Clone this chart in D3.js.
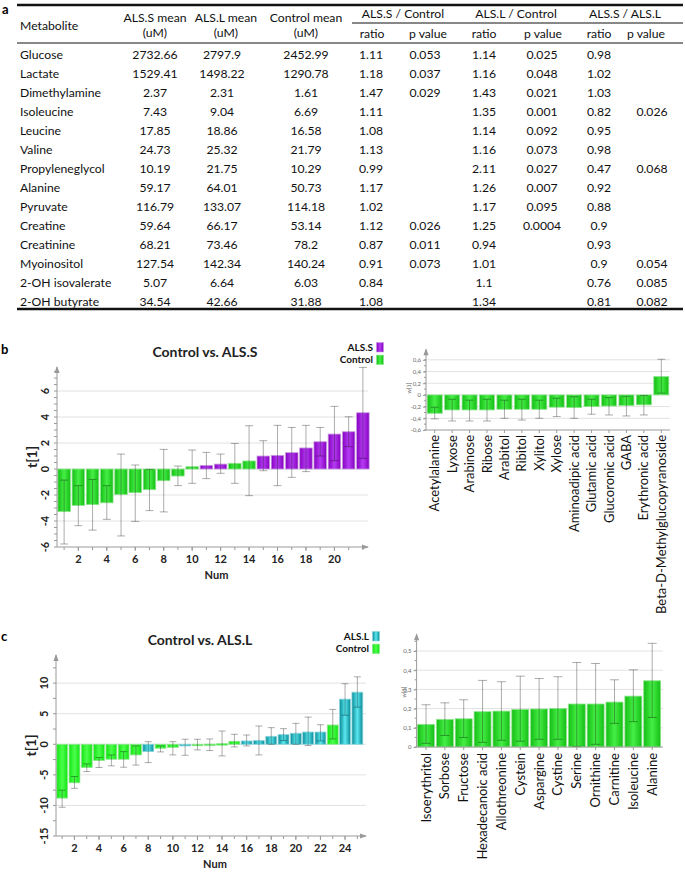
<!DOCTYPE html>
<html><head><meta charset="utf-8">
<script src="https://cdn.jsdelivr.net/npm/d3@7"></script>
<style>
body{margin:0;background:#fff}
svg{display:block}
text{font-family:Lato,"Open Sans","Noto Sans",sans-serif}
</style>
</head><body>
<svg id="fig" width="685" height="875"></svg>
<script>
// ---------- TABLE DATA (panel a) ----------
const metabolites = ["Glucose","Lactate","Dimethylamine","Isoleucine","Leucine","Valine","Propyleneglycol","Alanine","Pyruvate","Creatine","Creatinine","Myoinositol","2-OH isovalerate","2-OH butyrate"];
const alsSMean   = [2732.66,1529.41,2.37,7.43,17.85,24.73,10.19,59.17,116.79,59.64,68.21,127.54,5.07,34.54];
const alsLMean   = [2797.9,1498.22,2.31,9.04,18.86,25.32,21.75,64.01,133.07,66.17,73.46,142.34,6.64,42.66];
const controlMean= [2452.99,1290.78,1.61,6.69,16.58,21.79,10.29,50.73,114.18,53.14,78.2,140.24,6.03,31.88];
const ratioSC = [1.11,1.18,1.47,1.11,1.08,1.13,0.99,1.17,1.02,1.12,0.87,0.91,0.84,1.08];
const pSC     = [0.053,0.037,0.029,null,null,null,null,null,null,0.026,0.011,0.073,null,null];
const ratioLC = [1.14,1.16,1.43,1.35,1.14,1.16,2.11,1.26,1.17,1.25,0.94,1.01,1.1,1.34];
const pLC     = [0.025,0.048,0.021,0.001,0.092,0.073,0.027,0.007,0.095,0.0004,null,null,null,null];
const ratioSL = [0.98,1.02,1.03,0.82,0.95,0.98,0.47,0.92,0.88,0.9,0.93,0.9,0.76,0.81];
const pSL     = [null,null,null,0.026,null,null,0.068,null,null,null,null,0.054,0.085,0.082];

// ---------- PANEL b : Control vs. ALS.S ----------
const tS     = [-3.28,-2.8,-2.74,-2.6,-1.97,-1.82,-1.59,-0.9,-0.54,0.18,0.28,0.38,0.44,0.62,1.0,1.05,1.26,1.62,2.1,2.69,2.87,4.33];
const tSLo   = [-5.77,-4.36,-4.7,-3.87,-5.15,-4.03,-3.2,-3.3,-1.28,-1.1,-0.74,-0.33,-1.1,-2.05,-0.13,-1.28,-0.64,-0.2,1.0,0.64,1.72,0.82];
const tSHi   = [-0.85,-1.28,-0.8,-1.28,1.15,0.31,-0.03,1.51,0.23,1.46,1.28,1.15,1.97,3.33,2.18,3.36,3.2,3.36,3.2,4.82,4.02,7.82];
const tSGroup= ["Control","Control","Control","Control","Control","Control","Control","Control","Control","Control","ALS.S","ALS.S","Control","Control","ALS.S","ALS.S","ALS.S","ALS.S","ALS.S","ALS.S","ALS.S","ALS.S"];
const tSYTicks = [-6,-4,-2,0,2,4,6];
const tSXTicks = [2,4,6,8,10,12,14,16,18,20];

const wSNames = ["Acetylalanine","Lyxose","Arabinose","Ribose","Arabitol","Ribitol","Xylitol","Xylose","Aminoadipic acid","Glutamic acid","Glucoronic acid","GABA","Erythronic acid","Beta-D-Methylglucopyranoside"];
const wS   = [-0.314,-0.257,-0.257,-0.257,-0.246,-0.246,-0.246,-0.21,-0.217,-0.2,-0.19,-0.183,-0.17,0.314];
const wSLo = [-0.41,-0.446,-0.446,-0.446,-0.4,-0.43,-0.4,-0.37,-0.4,-0.33,-0.343,-0.36,-0.343,0.03];
const wSHi = [-0.21,-0.074,-0.09,-0.074,-0.09,-0.074,-0.09,-0.057,-0.03,-0.074,-0.046,-0.023,-0.01,0.61];
const wSYTicks = [-0.6,-0.4,-0.2,0,0.2,0.4,0.6];

// ---------- PANEL c : Control vs. ALS.L ----------
const tL     = [-8.8,-6.3,-3.8,-2.66,-2.45,-2.45,-1.74,-1.2,-0.65,-0.5,-0.27,-0.05,0.03,0.1,0.49,0.54,0.6,1.3,1.58,1.8,2.0,2.0,3.15,7.38,8.52];
const tLLo   = [-10.3,-7.2,-4.46,-3.8,-3.53,-3.75,-3.4,-3.0,-1.25,-1.74,-1.8,-0.92,-1.03,-1.9,-0.43,-0.27,-1.74,0.0,0.6,0.0,-0.2,0.54,0.87,4.75,6.07];
const tLHi   = [-7.5,-5.27,-3.2,-2.17,-1.74,-1.2,-0.27,0.43,-0.27,0.43,0.82,0.82,0.87,2.17,1.63,1.52,2.99,2.72,2.55,3.42,4.45,3.2,5.7,9.9,11.03];
const tLGroup= ["Control","Control","Control","Control","Control","Control","Control","ALS.L","Control","Control","ALS.L","Control","Control","Control","Control","ALS.L","ALS.L","ALS.L","ALS.L","ALS.L","ALS.L","ALS.L","Control","ALS.L","ALS.L"];
const tLYTicks = [-15,-10,-5,0,5,10];
const tLXTicks = [2,4,6,8,10,12,14,16,18,20,22,24];

const wLNames = ["Isoerythritol","Sorbose","Fructose","Hexadecanoic acid","Allothreonine","Cystein","Aspargine","Cystine","Serine","Ornithine","Carnitine","Isoleucine","Alanine"];
const wL   = [0.118,0.144,0.147,0.184,0.187,0.196,0.198,0.201,0.224,0.224,0.234,0.265,0.345];
const wLLo = [0.019,0.06,0.049,0.024,0.035,0.03,0.04,0.04,0.003,0.014,0.123,0.132,0.154];
const wLHi = [0.22,0.23,0.246,0.347,0.34,0.369,0.357,0.366,0.44,0.435,0.35,0.402,0.54];
const wLYTicks = [0,0.1,0.2,0.3,0.4,0.5];

// ---------- DRAW ----------
const svg = d3.select("#fig");
svg.append("rect").attr("width",685).attr("height",875).attr("fill","#fff");
const defs = svg.append("defs");
function grad(id, edge, mid){
  const g = defs.append("linearGradient").attr("id",id).attr("x1",0).attr("x2",1).attr("y1",0).attr("y2",0);
  g.append("stop").attr("offset","0%").attr("stop-color",edge);
  g.append("stop").attr("offset","50%").attr("stop-color",mid);
  g.append("stop").attr("offset","100%").attr("stop-color",edge);
}
grad("gGreen","#14be14","#46ee46");
grad("gGreenB","#12e412","#4cff4c");
grad("gPurple","#8600c0","#b43cf2");
grad("gTeal","#0a8a96","#5ae8f0");
const fills = {Control:"url(#gGreen)","ALS.S":"url(#gPurple)","ALS.L":"url(#gTeal)"};
const strokes = {Control:"#8fe68f","ALS.S":"#c89ae0","ALS.L":"#8ad4dc"};

// ----- table -----
const T = svg.append("g").attr("font-size",12.2).attr("fill","#111");
const tl = (x1,x2,y,w)=>T.append("line").attr("x1",x1).attr("x2",x2).attr("y1",y).attr("y2",y).attr("stroke","#111").attr("stroke-width",w);
tl(17,683,5,2.5); tl(352,683,23,1); tl(17,683,43,1); tl(17,683,309,2.5);
const tt = (x,y,s,anchor)=>T.append("text").attr("x",x).attr("y",y).attr("dy","0.35em").attr("text-anchor",anchor||"middle").text(s);
tt(20,26,"Metabolite","start");
tt(155,18,"ALS.S mean"); tt(155,33,"(uM)");
tt(226,18,"ALS.L mean"); tt(226,33,"(uM)");
tt(306,18,"Control mean"); tt(306,33,"(uM)");
tt(403,14,"ALS.S / Control"); tt(516,14,"ALS.L / Control"); tt(625,14,"ALS.S / ALS.L");
[[372,"ratio"],[428,"p value"],[484,"ratio"],[543,"p value"],[599,"ratio"],[646,"p value"]].forEach(d=>tt(d[0],34,d[1]));
const rowY = d3.scaleLinear().domain([0,13]).range([55,301.7]);
const colX = [155,222,306,371,425,484,542,599,652];
const cols = [alsSMean,alsLMean,controlMean,ratioSC,pSC,ratioLC,pLC,ratioSL,pSL];
metabolites.forEach((m,i)=>{
  tt(20,rowY(i),m,"start");
  cols.forEach((c,j)=>{ if(c[i]!==null) tt(colX[j],rowY(i),String(c[i])); });
});

// panel letters
const letter=(x,y,s)=>svg.append("text").attr("x",x).attr("y",y).attr("font-family","Liberation Sans, Arial, sans-serif").attr("font-weight","bold").attr("font-size",13).text(s);
letter(2,14,"a"); letter(1,354,"b"); letter(1,641,"c");

const AX = "#9a9a9a", GRID = "#e2e2e2";

function arrowUp(g,x,y){ g.append("path").attr("d",`M${x},${y-1} L${x-2.6},${y+6} L${x+2.6},${y+6} Z`).attr("fill",AX); }
function arrowRight(g,x,y){ g.append("path").attr("d",`M${x+1},${y} L${x-6},${y-2.6} L${x-6},${y+2.6} Z`).attr("fill",AX); }

function errorBars(g,x,y,lo,hi,cap){
  const eb = g.append("g").attr("stroke","#000").attr("stroke-opacity",0.33).attr("stroke-width",1);
  lo.forEach((l,i)=>{
    const cx = x(i)+0.5;
    eb.append("line").attr("x1",cx).attr("x2",cx).attr("y1",y(l)).attr("y2",y(hi[i]));
    eb.append("line").attr("x1",cx-cap).attr("x2",cx+cap).attr("y1",y(l)).attr("y2",y(l));
    eb.append("line").attr("x1",cx-cap).attr("x2",cx+cap).attr("y1",y(hi[i])).attr("y2",y(hi[i]));
  });
}

function leftChart(o){
  const g = svg.append("g");
  const x = d3.scaleBand().domain(d3.range(1,o.vals.length+1)).range(o.xr).paddingInner(0.12).paddingOuter(0.06);
  const y = d3.scaleLinear().domain(o.yd).range(o.yr);
  const x0 = o.xr[0], yBase = o.yr[0], yTop = o.yr[1];
  o.yTicks.filter(v=>v>o.yd[0]).forEach(v=>g.append("line").attr("x1",x0).attr("x2",o.xEnd).attr("y1",y(v)).attr("y2",y(v)).attr("stroke",GRID));
  const bw = x.bandwidth();
  o.vals.forEach((v,i)=>{
    const grp = o.groups[i];
    g.append("rect").attr("x",x(i+1)).attr("width",bw)
      .attr("y",y(Math.max(0,v))).attr("height",Math.max(1.5,Math.abs(y(v)-y(0))))
      .attr("fill",grp==="Control"? o.greenFill : fills[grp]).attr("stroke",strokes[grp]).attr("stroke-width",0.8);
  });
  errorBars(g,i=>x(i+1)+bw/2-0.5,y,o.lo,o.hi,o.cap);
  g.append("line").attr("x1",x0).attr("x2",x0).attr("y1",yBase).attr("y2",yTop).attr("stroke",AX);
  arrowUp(g,x0,yTop);
  g.append("line").attr("x1",x0).attr("x2",o.xEnd).attr("y1",yBase).attr("y2",yBase).attr("stroke",AX);
  arrowRight(g,o.xEnd,yBase);
  d3.range(o.yd[0],o.yd[1],o.minor).forEach(v=>g.append("line").attr("x1",x0-3).attr("x2",x0).attr("y1",y(v)).attr("y2",y(v)).attr("stroke",AX));
  o.yTicks.forEach(v=>g.append("text").attr("transform",`translate(${x0-8},${y(v)}) rotate(-90)`).attr("text-anchor","middle")
    .attr("font-weight","bold").attr("font-size",11).attr("fill","#222").text(String(v)));
  g.append("text").attr("transform",`translate(${x0-20},${(yBase+yTop)/2}) rotate(-90)`).attr("text-anchor","middle")
    .attr("font-weight","bold").attr("font-size",14).attr("fill","#222").text("t[1]");
  const xa = g.append("g").attr("transform",`translate(0,${yBase})`)
    .call(d3.axisBottom(x).tickValues(o.xTicks).tickSize(4).tickPadding(4));
  xa.select(".domain").remove();
  xa.selectAll("line").attr("stroke",AX);
  xa.selectAll("text").attr("font-family","Lato, sans-serif").attr("font-weight","bold").attr("font-size",11).attr("fill","#222");
  d3.range(1,o.vals.length+1).forEach(k=>g.append("line").attr("x1",x(k)+bw/2).attr("x2",x(k)+bw/2).attr("y1",yBase).attr("y2",yBase+3).attr("stroke",AX));
  g.append("text").attr("x",(x0+o.xEnd)/2+4).attr("y",yBase+32).attr("text-anchor","middle").attr("font-weight","bold").attr("font-size",11).attr("fill","#222").text("Num");
  g.append("text").attr("x",o.titleX).attr("y",o.titleY).attr("text-anchor","middle").attr("font-weight","bold").attr("font-size",14).attr("fill","#222").text(o.title);
  o.legend.forEach((d,k)=>{
    const ly = o.legY + k*12.6;
    g.append("text").attr("x",o.legX).attr("y",ly).attr("dy","0.35em").attr("text-anchor","end").attr("font-weight","bold").attr("font-size",10).attr("fill","#111").text(d);
    g.append("rect").attr("x",o.legX+3.5).attr("y",ly-4.5).attr("width",7).attr("height",9.5)
      .attr("fill",d==="Control"? o.greenFill : fills[d]).attr("stroke",strokes[d]).attr("stroke-width",0.6);
  });
}

function rightChart(o){
  const g = svg.append("g");
  const x = d3.scaleBand().domain(o.names).range(o.xr).paddingInner(o.pad).paddingOuter(o.pad/2);
  const y = d3.scaleLinear().domain(o.yd).range(o.yr);
  const x0 = o.xr[0], yBase = o.yr[0], yTop = o.yr[1];
  o.yTicks.filter(v=>v>o.yd[0]+1e-9).forEach(v=>g.append("line").attr("x1",x0).attr("x2",o.xEnd).attr("y1",y(v)).attr("y2",y(v)).attr("stroke",GRID));
  const bw = x.bandwidth();
  o.vals.forEach((v,i)=>{
    g.append("rect").attr("x",x(o.names[i])).attr("width",bw)
      .attr("y",y(Math.max(0,v))).attr("height",Math.abs(y(v)-y(0)))
      .attr("fill","url(#gGreen)").attr("stroke","#8fe68f").attr("stroke-width",0.8);
  });
  errorBars(g,i=>x(o.names[i])+bw/2-0.5,y,o.lo,o.hi,o.cap);
  g.append("line").attr("x1",x0).attr("x2",x0).attr("y1",yBase).attr("y2",yTop).attr("stroke",AX);
  arrowUp(g,x0,yTop);
  g.append("line").attr("x1",x0).attr("x2",o.xEnd).attr("y1",yBase).attr("y2",yBase).attr("stroke",AX);
  d3.range(o.yd[0],o.yd[1],o.minor).forEach(v=>g.append("line").attr("x1",x0-2).attr("x2",x0).attr("y1",y(v)).attr("y2",y(v)).attr("stroke",AX));
  const ya = g.append("g").attr("transform",`translate(${x0},0)`)
    .call(d3.axisLeft(y).tickValues(o.yTicks).tickSize(3).tickPadding(2).tickFormat(v=>String(+v.toFixed(2)).replace(".",",")));
  ya.select(".domain").remove();
  ya.selectAll("line").attr("stroke",AX);
  ya.selectAll("text").attr("font-family","Lato, sans-serif").attr("font-size",6).attr("fill","#666");
  g.append("text").attr("transform",`translate(${o.wX},${o.wY}) rotate(-90)`).attr("text-anchor","middle").attr("font-size",5.5).attr("fill","#666").text("w[1]");
  const xa = g.append("g").attr("transform",`translate(0,${yBase})`).call(d3.axisBottom(x).tickSize(3).tickFormat(""));
  xa.select(".domain").remove();
  xa.selectAll("line").attr("stroke",AX);
  o.names.forEach(n=>g.append("text").attr("transform",`translate(${x(n)+bw/2+4.5},${o.labY}) rotate(-90)`)
    .attr("text-anchor","end").attr("font-size",13).attr("fill","#111").text(n));
}

leftChart({vals:tS,lo:tSLo,hi:tSHi,groups:tSGroup,xr:[57,370],xEnd:368,yd:[-6,7.85],yr:[547,367],yTicks:tSYTicks,minor:0.5,
  xTicks:tSXTicks,cap:4,title:"Control vs. ALS.S",titleX:205,titleY:357,legend:["ALS.S","Control"],legX:373,legY:347,greenFill:"url(#gGreen)"});
rightChart({names:wSNames,vals:wS,lo:wSLo,hi:wSHi,xr:[426,670],xEnd:670,pad:0.14,yd:[-0.6,0.78],yr:[430,349.3],yTicks:wSYTicks,minor:0.1,
  cap:4,wX:411,wY:388,labY:435});
leftChart({vals:tL,lo:tLLo,hi:tLHi,groups:tLGroup,xr:[56,363.5],xEnd:366,yd:[-15,14.6],yr:[836,655],yTicks:tLYTicks,minor:2.5,
  xTicks:tLXTicks,cap:3.5,title:"Control vs. ALS.L",titleX:200,titleY:645,legend:["ALS.L","Control"],legX:369,legY:636,greenFill:"url(#gGreenB)"});
rightChart({names:wLNames,vals:wL,lo:wLLo,hi:wLHi,xr:[416.6,661.6],xEnd:663,pad:0.1,yd:[0,0.587],yr:[747,634.3],yTicks:wLYTicks,minor:0.05,
  cap:4.5,wX:406,wY:692,labY:753});
</script>
</body></html>
